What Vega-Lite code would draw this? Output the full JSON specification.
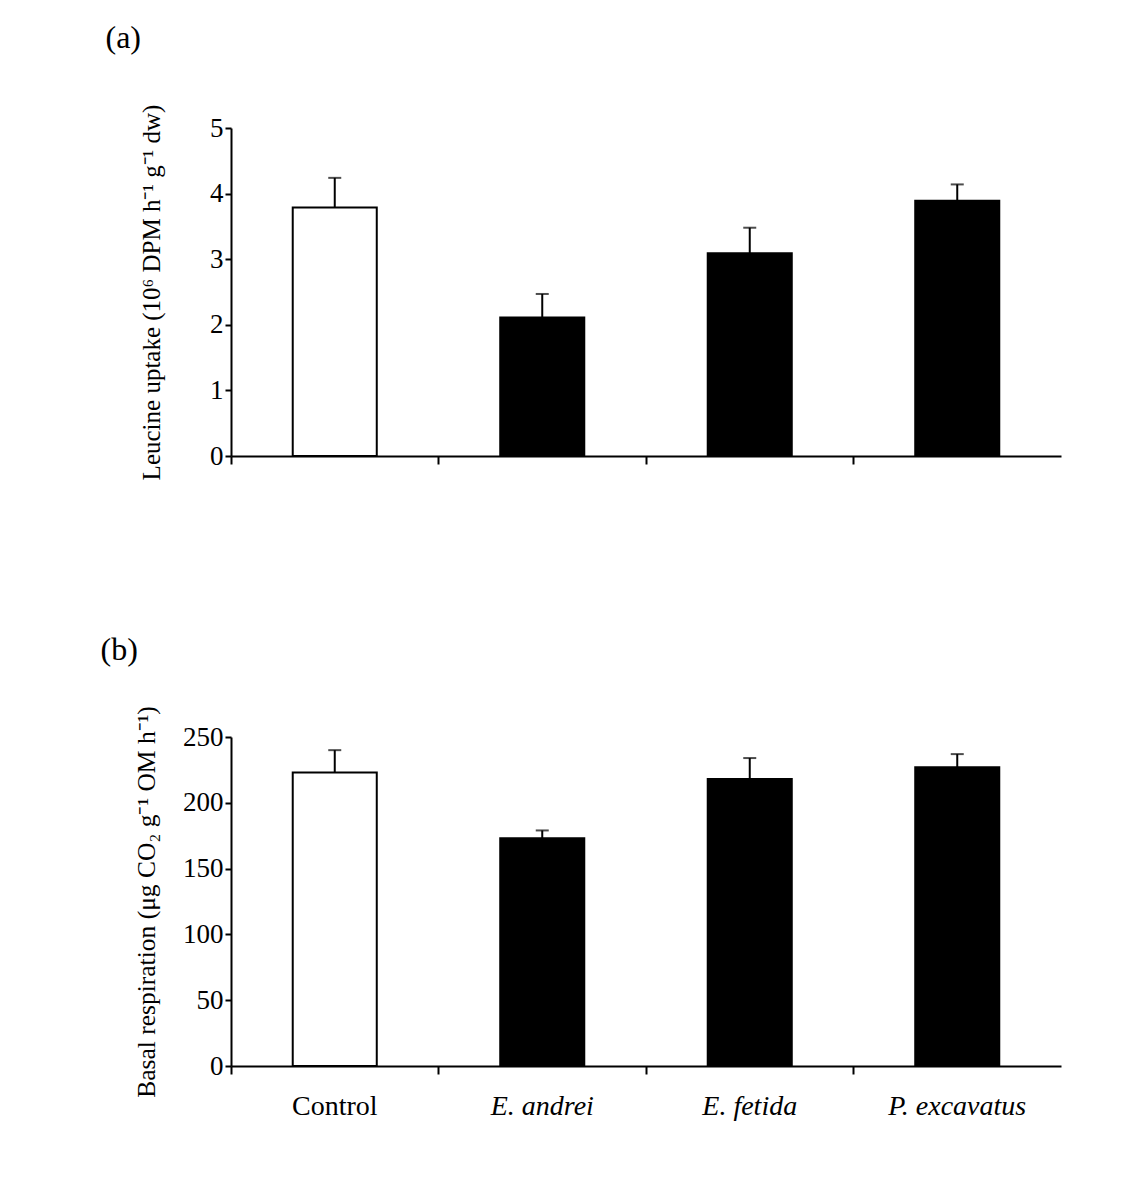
{
  "$schema": "https://vega.github.io/schema/vega-lite/v6.json",
  "background": "white",
  "padding": {"left": 100, "top": 22, "right": 5, "bottom": 5},
  "config": {
    "font": "Liberation Serif",
    "view": {"stroke": null},
    "concat": {"spacing": 153},
    "axis": {
      "domainColor": "black", "domainWidth": 2, "tickColor": "black", "tickWidth": 2,
      "labelColor": "black", "titleColor": "black", "grid": false,
      "labelFont": "Liberation Serif", "titleFont": "Liberation Serif",
      "titleFontWeight": "normal"
    },
    "title": {"font": "Liberation Serif", "fontSize": 32, "fontWeight": "normal", "anchor": "start", "color": "black"}
  },
  "datasets": {
    "a": [
      {"treatment": "Control", "value": 3.79, "upper": 4.24},
      {"treatment": "E. andrei", "value": 2.11, "upper": 2.47},
      {"treatment": "E. fetida", "value": 3.09, "upper": 3.48},
      {"treatment": "P. excavatus", "value": 3.89, "upper": 4.14}
    ],
    "b": [
      {"treatment": "Control", "value": 223, "upper": 240},
      {"treatment": "E. andrei", "value": 173, "upper": 179},
      {"treatment": "E. fetida", "value": 218, "upper": 234},
      {"treatment": "P. excavatus", "value": 227, "upper": 237}
    ]
  },
  "vconcat": [
    {
      "title": {"text": "(a)", "dx": -34, "offset": 49},
      "width": 830,
      "height": 328,
      "data": {"name": "a"},
      "encoding": {
        "x": {
          "field": "treatment", "type": "nominal", "sort": null,
          "scale": {"paddingInner": 0, "paddingOuter": 0},
          "axis": {"title": null, "labels": false, "tickSize": 8, "bandPosition": 0, "domainWidth": 2}
        }
      },
      "layer": [
        {
          "mark": {"type": "bar", "width": {"band": 0.405}, "stroke": "black", "strokeWidth": 2},
          "encoding": {
            "y": {
              "field": "value", "type": "quantitative",
              "scale": {"domain": [0, 5], "nice": false},
              "axis": {
                "title": "Leucine uptake (10⁶ DPM h⁻¹ g⁻¹ dw)", "titleFontSize": 25, "titlePadding": 45,
                "values": [0, 1, 2, 3, 4, 5], "format": "d", "labelFontSize": 27, "tickSize": 6, "labelPadding": 2
              }
            },
            "fill": {
              "field": "treatment", "type": "nominal", "legend": null,
              "scale": {"domain": ["Control", "E. andrei", "E. fetida", "P. excavatus"], "range": ["white", "black", "black", "black"]}
            }
          }
        },
        {
          "mark": {"type": "rule", "color": "black", "strokeWidth": 2},
          "encoding": {
            "y": {"field": "value", "type": "quantitative"},
            "y2": {"field": "upper"}
          }
        },
        {
          "mark": {"type": "tick", "color": "black", "size": 13, "thickness": 2},
          "encoding": {
            "y": {"field": "upper", "type": "quantitative"}
          }
        }
      ]
    },
    {
      "title": {"text": "(b)", "dx": -34, "offset": 39},
      "width": 830,
      "height": 329,
      "data": {"name": "b"},
      "encoding": {
        "x": {
          "field": "treatment", "type": "nominal", "sort": null,
          "scale": {"paddingInner": 0, "paddingOuter": 0},
          "axis": {
            "title": null, "labelAngle": 0, "labelFontSize": 28, "tickSize": 8, "bandPosition": 0,
            "labelPadding": 18,
            "labelFontStyle": {"expr": "datum.value == 'Control' ? 'normal' : 'italic'"}
          }
        }
      },
      "layer": [
        {
          "mark": {"type": "bar", "width": {"band": 0.405}, "stroke": "black", "strokeWidth": 2},
          "encoding": {
            "y": {
              "field": "value", "type": "quantitative",
              "scale": {"domain": [0, 250], "nice": false},
              "axis": {
                "title": "Basal respiration (μg CO₂ g⁻¹ OM h⁻¹)", "titleFontSize": 25.5, "titlePadding": 23,
                "values": [0, 50, 100, 150, 200, 250], "format": "d", "labelFontSize": 27, "tickSize": 6, "labelPadding": 2
              }
            },
            "fill": {
              "field": "treatment", "type": "nominal", "legend": null,
              "scale": {"domain": ["Control", "E. andrei", "E. fetida", "P. excavatus"], "range": ["white", "black", "black", "black"]}
            }
          }
        },
        {
          "mark": {"type": "rule", "color": "black", "strokeWidth": 2},
          "encoding": {
            "y": {"field": "value", "type": "quantitative"},
            "y2": {"field": "upper"}
          }
        },
        {
          "mark": {"type": "tick", "color": "black", "size": 13, "thickness": 2},
          "encoding": {
            "y": {"field": "upper", "type": "quantitative"}
          }
        }
      ]
    }
  ]
}
